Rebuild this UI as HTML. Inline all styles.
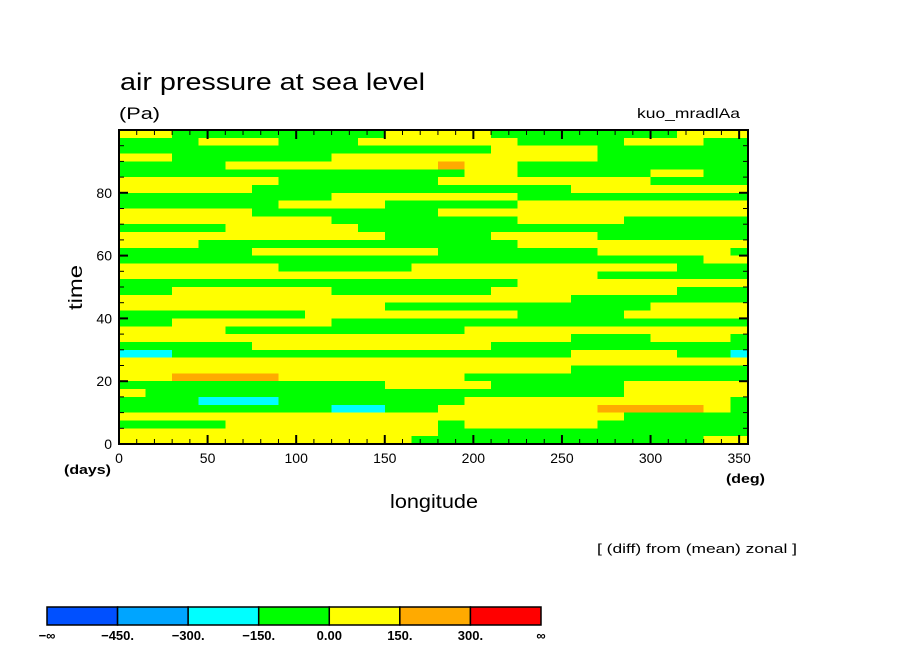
<!DOCTYPE html>
<html><head><meta charset="utf-8"><style>
body{margin:0;background:#fff;}
svg text{font-family:"Liberation Sans",sans-serif;fill:#000;}
</style></head><body>
<svg id="chart" width="904" height="654" xmlns="http://www.w3.org/2000/svg">
<text x="120" y="90" font-size="24" textLength="305" lengthAdjust="spacingAndGlyphs">air pressure at sea level</text>
<text x="119" y="119" font-size="17" textLength="41" lengthAdjust="spacingAndGlyphs">(Pa)</text>
<text x="637" y="118" font-size="14" textLength="103" lengthAdjust="spacingAndGlyphs">kuo_mradlAa</text>
<defs><clipPath id="pc"><rect x="119" y="130" width="629" height="314"/></clipPath></defs>
<g id="cells" clip-path="url(#pc)" shape-rendering="crispEdges"></g>
<g id="axes"></g>
<text transform="translate(82,310) rotate(-90)" font-size="19" textLength="45" lengthAdjust="spacingAndGlyphs">time</text>
<text x="64" y="474" font-size="13" font-weight="bold" textLength="47" lengthAdjust="spacingAndGlyphs">(days)</text>
<text x="390" y="508" font-size="19" textLength="88" lengthAdjust="spacingAndGlyphs">longitude</text>
<text x="726" y="483" font-size="13" font-weight="bold" textLength="39" lengthAdjust="spacingAndGlyphs">(deg)</text>
<text x="597" y="553" font-size="13" textLength="200" lengthAdjust="spacingAndGlyphs">[ (diff) from (mean) zonal ]</text>
<g id="cbar"></g>
</svg>
<script>
const lonStep = 15;
const timeStep = 2.5;
const rows = [
"YYGGGGGGGGYYYYGGGGGGGYYY",
"GGGYYYGGGYYYYYYGGGGYYYGG",
"GGGGGGGGGGGGGGYYYYGGGGGG",
"YYGGGGGGYYYYYYYYYYGGGGGG",
"GGGGYYYYYYYYOYYGGGGGGGGG",
"GGGGGGGGGGGGGYYGGGGGYYGG",
"YYYYYYGGGGGGYYYYYYYYGGGG",
"YYYYYGGGGGGGGGGGGYYYYYYY",
"GGGGGGGGYYYYYYYGGGGGGGGG",
"GGGGGGYYYYGGGGGYYYYYYYYY",
"YYYYYGGGGGGGYYYYYYYYYYYY",
"YYYYYYYYGGGGGGGYYYYGGGGG",
"GGGGYYYYYGGGGGGGGGGGGGGG",
"YYYYYYYYYYGGGGYYYYGGGGGG",
"YYYGGGGGGGGGGGGYYYYYYYYY",
"GGGGGYYYYYYYGGGGGGYYYYYG",
"GGGGGGGGGGGGGGGGGGGGGGYY",
"YYYYYYGGGGGYYYYYYYYYYGGG",
"YYYYYYYYYYYYYYYYYYGGGGGG",
"GGGGGGGGGGGGGGGYYYYYYYYY",
"GGYYYYYYGGGGGGYYYYYYYGGG",
"YYYYYYYYYYYYYYYYYGGGGGGG",
"YYYYYYYYYYGGGGGGGGGGYYYY",
"GGGGGGGYYYYYYYYGGGGYYYYY",
"GGYYYYYYGGGGGGGGGGGGGGGG",
"YYYYGGGGGGGGGYYYYYYYYYYY",
"YYYYYYYYYYYYYYYYYGGGYYYG",
"GGGGGYYYYYYYYYGGGGGGGGGG",
"CCGGGGGGGGGGGGGGGYYYYGGC",
"YYYYYYYYYYYYYYYYYYYYYYYY",
"YYYYYYYYYYYYYYYYYGGGGGGG",
"YYOOOOYYYYYYYGGGGGGGGGGG",
"GGGGGGGGGGYYYYGGGGGYYYYY",
"YGGGGGGGGGGGGGGGGGGYYYYY",
"GGGCCCGGGGGGGYYYYYYYYYYG",
"GGGGGGGGCCGGYYYYYYOOOOYG",
"YYYYYYYYYYYYYYYYYYYGGGGG",
"GGGGYYYYYYYYGYYYYYGGGGGG",
"YYYYYYYYYYYYGGGGGGGGGGGG",
"YYYYYYYYYYYGGGGGGGGGGGYY"
];
const levelLabels = ["−∞","−450.","−300.","−150.","0.00","150.","300.","∞"];
const xTicks = [0,50,100,150,200,250,300,350];
const yTicks = [0,20,40,60,80];
const colorMap = {B:"#0050ff",L:"#00a5ff",C:"#00ffff",G:"#00ff00",Y:"#ffff00",O:"#ffaa00",R:"#ff0000"};
const barColors = ["#0050ff","#00a5ff","#00ffff","#00ff00","#ffff00","#ffaa00","#ff0000"];
const NS="http://www.w3.org/2000/svg";
const X0=119,X1=748,Y0=444,Y1=130;
const xs = v => X0 + v*(X1-X0)/355;
const ys = v => Y0 - v*(Y0-Y1)/100;
function mk(tag,attrs,parent){const e=document.createElementNS(NS,tag);for(const k in attrs)e.setAttribute(k,attrs[k]);parent.appendChild(e);return e;}
const cells=document.getElementById('cells');
const nR=rows.length;
rows.forEach((row,ri)=>{
  const tTop=(nR-ri)*timeStep, tBot=(nR-ri-1)*timeStep;
  for(let ci=0;ci<row.length;ci++){
    const r=mk('rect',{x:xs(ci*lonStep),y:ys(tTop),width:xs((ci+1)*lonStep)-xs(ci*lonStep)+0.5,height:ys(tBot)-ys(tTop)+0.5,fill:colorMap[row[ci]]},cells);
    
    
  }
});
const ax=document.getElementById('axes');
mk('rect',{x:X0,y:Y1,width:X1-X0,height:Y0-Y1,fill:'none',stroke:'#000','stroke-width':2},ax);
for(let v=0;v<=355;v+=10){
  const maj=v%50===0, L=maj?9:5;
  mk('line',{x1:xs(v),x2:xs(v),y1:Y0,y2:Y0-L,stroke:'#000','stroke-width':maj?2:1},ax);
  mk('line',{x1:xs(v),x2:xs(v),y1:Y1,y2:Y1+L,stroke:'#000','stroke-width':maj?2:1},ax);
}
for(let v=0;v<=100;v+=5){
  const maj=v%20===0, L=maj?9:5;
  mk('line',{x1:X0,x2:X0+L,y1:ys(v),y2:ys(v),stroke:'#000','stroke-width':maj?2:1},ax);
  mk('line',{x1:X1,x2:X1-L,y1:ys(v),y2:ys(v),stroke:'#000','stroke-width':maj?2:1},ax);
}
xTicks.forEach(v=>{const t=mk('text',{x:xs(v),y:463,'font-size':14,'text-anchor':'middle'},ax);t.textContent=v;
  
  });
yTicks.forEach(v=>{const t=mk('text',{x:112,y:ys(v)+5,'font-size':14,'text-anchor':'end'},ax);t.textContent=v;
  
  });
const cb=document.getElementById('cbar');
const CX0=47,CX1=541,CW=(CX1-CX0)/barColors.length;
barColors.forEach((c,i)=>{const r=mk('rect',{x:CX0+i*CW,y:607,width:CW,height:18,fill:c,stroke:'#000','stroke-width':1.5},cb);
  
  });
levelLabels.forEach((s,i)=>{const t=mk('text',{x:CX0+i*CW,y:640,'font-size':13,'font-weight':'bold','text-anchor':'middle'},cb);t.textContent=s;
  
  });
</script>
</body></html>
